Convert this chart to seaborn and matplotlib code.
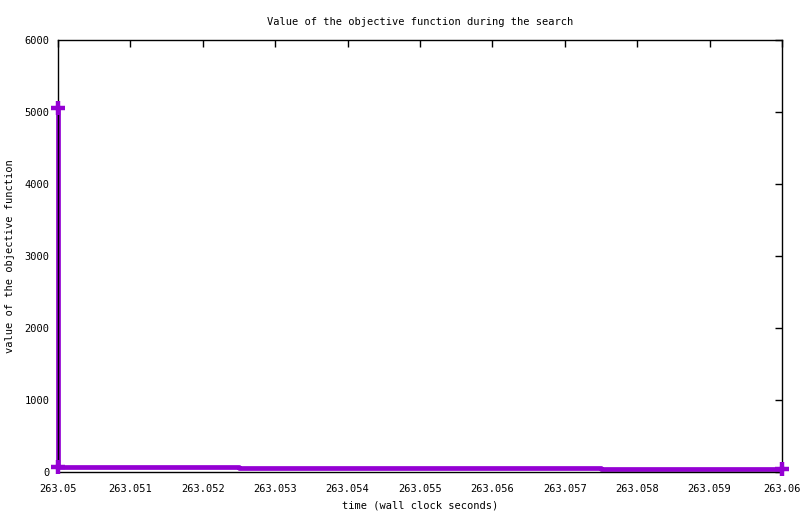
import matplotlib
matplotlib.use("Agg")
import matplotlib.pyplot as plt
import seaborn as sns
import pandas as pd
import numpy as np

# data
times = [263.05, 263.05, 263.0525, 263.0575, 263.06]
values = [5050, 74, 60, 42, 42]
marker_times = [263.05, 263.05, 263.06]
marker_values = [5050, 74, 42]
xticks = [263.05, 263.051, 263.052, 263.053, 263.054, 263.055,
          263.056, 263.057, 263.058, 263.059, 263.06]
xtick_labels = ["263.05", "263.051", "263.052", "263.053", "263.054", "263.055",
                "263.056", "263.057", "263.058", "263.059", "263.06"]
yticks = [0, 1000, 2000, 3000, 4000, 5000, 6000]

sns.set_style("white")
plt.rcParams['font.family'] = ['DejaVu Sans Mono']
plt.rcParams['text.color'] = 'black'
plt.rcParams['axes.labelcolor'] = 'black'

fig = plt.figure(figsize=(8.0, 5.14), dpi=100)
ax = fig.add_axes([58/800, 1-472/514, (782-58)/800, (472-40)/514])

df = pd.DataFrame({"t": times, "v": values})
dm = pd.DataFrame({"t": marker_times, "v": marker_values})
color = "#9400D3"
sns.lineplot(data=df, x="t", y="v", ax=ax, sort=False, estimator=None,
             drawstyle="steps-post", color=color, linewidth=3.4)
sns.scatterplot(data=dm, x="t", y="v", ax=ax, marker="+", s=90,
                color=color, linewidth=3.2, zorder=5)

ax.set_xlim(263.05, 263.06)
ax.set_ylim(0, 6000)
ax.set_xticks(xticks)
ax.set_xticklabels(xtick_labels)
ax.set_yticks(yticks)
ax.tick_params(direction="in", length=5, width=1, top=True, right=True,
               labelsize=7.5, colors="black")
ax.tick_params(axis="x", pad=9)
ax.tick_params(axis="y", pad=6)
for sp in ax.spines.values():
    sp.set_color("black")
    sp.set_linewidth(1)
ax.set_xlabel("time (wall clock seconds)", fontsize=7.5, labelpad=4, color="black")
ax.set_ylabel("value of the objective function", fontsize=7.5, color="black",
              va="center")
ax.yaxis.set_label_coords((10 - 58) / 724, 0.5)
ax.set_title("Value of the objective function during the search", fontsize=7.5,
             pad=11, color="black")
for line in ax.lines:
    line.set_clip_on(False)
for c in ax.collections:
    c.set_clip_on(False)

fig.savefig("out.png", dpi=100)
